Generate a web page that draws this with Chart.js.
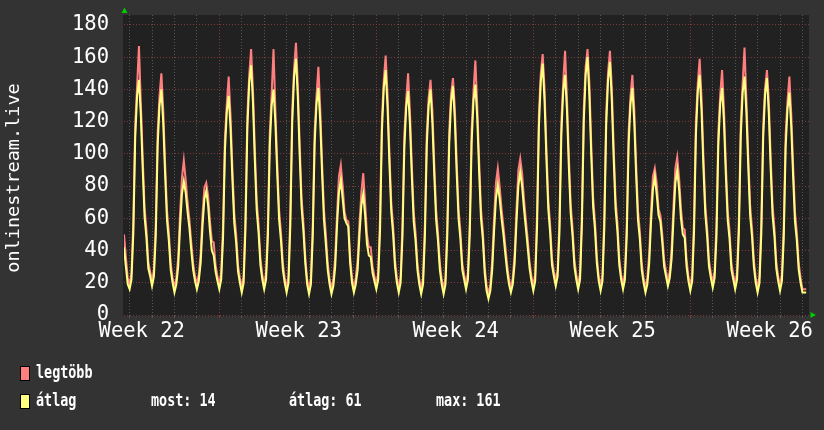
<!DOCTYPE html>
<html>
<head>
<meta charset="utf-8">
<script src="https://cdn.jsdelivr.net/npm/chart.js@4.4.1/dist/chart.umd.min.js"></script>
<style>
  html, body { margin: 0; padding: 0; background: #333333; }
  #wrap { width: 824px; height: 430px; }
</style>
</head>
<body>
<div id="wrap"><canvas id="graph" width="824" height="430"></canvas></div>
<script>
// ---- data: 2-hour samples, one row per day (starting at the day grid line) ----
const atlag = [ // átlag
  42, 30, 19,
  16, 22, 51, 110, 136, 146, 124, 91, 61, 48, 29, 24,
  18, 24, 49, 105, 130, 140, 119, 87, 59, 46, 28, 20,
  14, 19, 30, 55, 75, 83, 76, 64, 54, 40, 28, 21,
  16, 21, 32, 55, 72, 77, 68, 52, 40, 37, 27, 21,
  16, 22, 48, 102, 126, 136, 116, 84, 57, 45, 27, 20,
  14, 20, 54, 116, 144, 155, 132, 96, 65, 51, 31, 22,
  16, 22, 49, 105, 130, 140, 119, 87, 59, 46, 28, 20,
  14, 20, 56, 119, 148, 159, 135, 99, 67, 52, 32, 19,
  13, 19, 49, 106, 131, 141, 120, 87, 59, 44, 28, 19,
  13, 18, 30, 56, 76, 84, 72, 60, 57, 55, 32, 20,
  14, 19, 28, 50, 68, 75, 62, 44, 37, 36, 26, 21,
  16, 22, 53, 114, 141, 152, 129, 94, 64, 50, 30, 20,
  14, 20, 49, 104, 129, 139, 118, 86, 58, 46, 28, 19,
  13, 19, 49, 105, 130, 140, 119, 87, 59, 46, 28, 19,
  13, 19, 50, 106, 132, 142, 121, 88, 60, 47, 28, 22,
  16, 22, 50, 107, 133, 143, 122, 89, 60, 47, 26, 15,
  10, 15, 28, 52, 72, 81, 72, 60, 50, 38, 27, 19,
  14, 19, 32, 58, 80, 89, 80, 66, 54, 42, 29, 21,
  15, 21, 55, 117, 145, 156, 133, 97, 66, 51, 31, 24,
  18, 24, 52, 112, 139, 149, 127, 92, 63, 49, 30, 22,
  16, 22, 56, 120, 149, 160, 136, 99, 67, 53, 32, 21,
  15, 21, 55, 118, 146, 157, 133, 97, 66, 52, 31, 22,
  16, 22, 49, 106, 131, 141, 120, 87, 59, 47, 28, 20,
  14, 19, 32, 58, 78, 86, 75, 62, 58, 45, 30, 24,
  18, 23, 35, 60, 82, 90, 78, 60, 50, 48, 30, 21,
  15, 21, 52, 112, 139, 149, 127, 92, 63, 49, 30, 23,
  17, 23, 49, 106, 131, 141, 120, 87, 59, 47, 28, 22,
  16, 22, 52, 111, 138, 148, 126, 92, 62, 49, 30, 20,
  14, 20, 51, 110, 137, 147, 125, 91, 62, 49, 29, 21,
  15, 21, 48, 104, 128, 138, 117, 86, 58, 46, 28, 20,
  14, 14, 14
];

const legtobb = [ // legtöbb
  50, 36, 23,
  19, 26, 59, 118, 142, 167, 132, 98, 67, 53, 33, 27,
  21, 28, 57, 113, 136, 150, 127, 94, 65, 51, 32, 23,
  17, 23, 36, 63, 85, 96, 84, 70, 59, 45, 32, 24,
  19, 25, 38, 62, 79, 82, 74, 58, 46, 45, 31, 24,
  19, 26, 56, 110, 131, 148, 124, 91, 63, 50, 31, 23,
  17, 24, 62, 124, 149, 165, 140, 103, 71, 56, 35, 25,
  19, 26, 57, 113, 137, 165, 127, 94, 65, 51, 32, 23,
  17, 24, 64, 127, 153, 169, 143, 106, 73, 57, 36, 22,
  16, 23, 57, 114, 136, 154, 128, 94, 65, 50, 32, 22,
  16, 22, 36, 63, 86, 93, 80, 64, 59, 58, 36, 23,
  17, 23, 34, 57, 76, 88, 70, 50, 42, 42, 30, 24,
  19, 26, 61, 122, 146, 161, 137, 101, 70, 55, 34, 23,
  17, 24, 57, 112, 134, 150, 126, 93, 64, 51, 32, 22,
  16, 23, 57, 113, 135, 146, 127, 94, 65, 51, 32, 22,
  16, 23, 58, 114, 137, 147, 129, 95, 66, 52, 32, 25,
  19, 26, 58, 115, 139, 158, 130, 96, 66, 52, 30, 18,
  13, 19, 34, 60, 82, 91, 80, 66, 55, 43, 31, 22,
  17, 23, 38, 66, 90, 97, 88, 72, 59, 47, 33, 24,
  18, 25, 63, 125, 150, 162, 141, 104, 72, 56, 35, 27,
  21, 28, 60, 120, 145, 164, 135, 99, 69, 54, 34, 25,
  19, 26, 64, 128, 154, 165, 144, 106, 73, 58, 36, 24,
  18, 25, 63, 126, 151, 164, 141, 104, 72, 57, 35, 25,
  19, 26, 57, 114, 136, 149, 128, 94, 65, 52, 32, 23,
  17, 23, 38, 65, 86, 91, 82, 66, 62, 50, 34, 27,
  21, 27, 41, 68, 91, 98, 85, 66, 54, 53, 34, 24,
  18, 25, 60, 120, 144, 159, 135, 99, 69, 54, 34, 26,
  20, 27, 57, 114, 137, 152, 128, 94, 65, 52, 32, 25,
  19, 26, 60, 119, 144, 166, 134, 99, 68, 54, 34, 23,
  17, 24, 59, 118, 141, 152, 133, 98, 68, 54, 33, 24,
  18, 25, 56, 112, 133, 148, 125, 93, 64, 51, 32, 23,
  16, 16, 16
];

// hours since the left edge of the graph
const hours = atlag.map((_, i) => i * 2);

const weekLabels = ['Week 22', 'Week 23', 'Week 24', 'Week 25', 'Week 26'];
const weekLabelAt = [19, 187, 355, 523, 691];     // hour of each week label
const weekLines = [102, 270, 438, 606];           // red major grid (hours)
const dayLines = Array.from({ length: 31 }, (_, k) => 6 + 24 * k);
const yGridValues = Array.from({ length: 38 }, (_, k) => k * 5);
const legendStats = ['most: 14', 'átlag: 61', 'max: 161'];
const yTitle = 'onlinestream.live';

const RED = '#ff7f7f', YELLOW = '#ffff80';
const MINOR = '#575757', MAJOR = '#7d3a3a';
const MONO = '"DejaVu Sans Mono", monospace';

const rrdLook = {
  id: 'rrdLook',
  beforeDraw(chart) {
    const { ctx, chartArea: a } = chart;
    ctx.save();
    ctx.fillStyle = '#333333';
    ctx.fillRect(0, 0, chart.width, chart.height);
    ctx.fillStyle = '#212121';
    ctx.fillRect(a.left - 1, a.top, a.right - a.left + 1, a.bottom - a.top + 1);
    ctx.restore();
  },
  afterDraw(chart) {
    const { ctx, chartArea: a } = chart;
    ctx.save();
    // axis arrows
    ctx.fillStyle = '#00cc00';
    ctx.beginPath();
    ctx.moveTo(a.left + 0.5, 7.5); ctx.lineTo(a.left + 3.5, 13); ctx.lineTo(a.left - 2.5, 13);
    ctx.closePath(); ctx.fill();
    ctx.beginPath();
    ctx.moveTo(816, a.bottom); ctx.lineTo(810.5, a.bottom - 3); ctx.lineTo(810.5, a.bottom + 3);
    ctx.closePath(); ctx.fill();

    // vertical title
    ctx.fillStyle = '#ffffff';
    ctx.font = '18.5px ' + MONO;
    ctx.translate(18.5, 178);
    ctx.rotate(-Math.PI / 2);
    ctx.textAlign = 'center';
    ctx.textBaseline = 'alphabetic';
    ctx.fillText(yTitle, 0, 0);
    ctx.restore();

    // legend
    const ds = chart.data.datasets;
    const rows = [
      { color: ds[1].borderColor, label: ds[1].label, top: 366, base: 378 },
      { color: ds[0].borderColor, label: ds[0].label, top: 394, base: 406 }
    ];
    ctx.save();
    ctx.font = 'bold 18px ' + MONO;
    ctx.textBaseline = 'alphabetic';
    rows.forEach(r => {
      ctx.fillStyle = r.color;
      ctx.fillRect(20, r.top, 10, 15);
      ctx.strokeStyle = '#000000';
      ctx.lineWidth = 1;
      ctx.strokeRect(20.5, r.top + 0.5, 9, 14);
      drawNarrow(ctx, r.label, 36, r.base);
    });
    [151, 289, 436].forEach((x, i) => drawNarrow(ctx, legendStats[i], x, rows[1].base));
    ctx.restore();
  }
};

// legend font in the original is a tall narrow mono face
function drawNarrow(ctx, text, x, y) {
  ctx.save();
  ctx.translate(x, y);
  ctx.scale(0.745, 1);
  ctx.fillStyle = '#ffffff';
  ctx.fillText(text, 0, 0);
  ctx.restore();
}

function xGridColor(v) {
  if (weekLabelAt.includes(v)) return 'rgba(0,0,0,0)';
  return weekLines.includes(v) ? MAJOR : MINOR;
}

new Chart(document.getElementById('graph'), {
  type: 'line',
  data: {
    labels: hours,
    datasets: [
      { label: 'átlag', data: atlag, borderColor: YELLOW, backgroundColor: YELLOW, order: 0 },
      { label: 'legtöbb', data: legtobb, borderColor: RED, backgroundColor: RED, order: 1 }
    ]
  },
  options: {
    responsive: false,
    animation: false,
    events: [],
    layout: { padding: { left: 0, right: 15, top: 15, bottom: 85 } },
    elements: {
      line: { borderWidth: 2, tension: 0 },
      point: { radius: 0 }
    },
    plugins: { legend: { display: false }, tooltip: { enabled: false } },
    scales: {
      x: {
        type: 'linear', min: 0, max: 733,
        afterBuildTicks: s => {
          s.ticks = dayLines.concat(weekLabelAt).sort((a, b) => a - b).map(v => ({ value: v }));
        },
        afterFit: s => { s.height = 30; s.paddingLeft = 0; s.paddingRight = 0; },
        ticks: {
          autoSkip: false, maxRotation: 0, padding: 1, color: '#ffffff',
          font: { family: MONO, size: 20.5 },
          callback: v => {
            const i = weekLabelAt.indexOf(v);
            return i >= 0 ? weekLabels[i] : '';
          }
        },
        grid: {
          color: c => xGridColor(c.tick.value),
          tickColor: c => xGridColor(c.tick.value),
          tickLength: 3, lineWidth: 1
        },
        border: { display: false, dash: [1, 2] }
      },
      y: {
        min: 0, max: 186.2,
        afterBuildTicks: s => { s.ticks = yGridValues.map(v => ({ value: v })); },
        afterFit: s => { s.width = 124; s.paddingTop = 0; s.paddingBottom = 0; },
        ticks: {
          padding: 15, color: '#ffffff',
          font: { family: MONO, size: 20.5 },
          callback: v => (v % 20 === 0 ? String(v) : '')
        },
        grid: {
          color: c => (c.tick.value % 20 === 0 ? MAJOR : MINOR),
          drawTicks: false, lineWidth: 1
        },
        border: { display: false, dash: [1, 2] }
      }
    }
  },
  plugins: [rrdLook]
});
</script>
</body>
</html>
